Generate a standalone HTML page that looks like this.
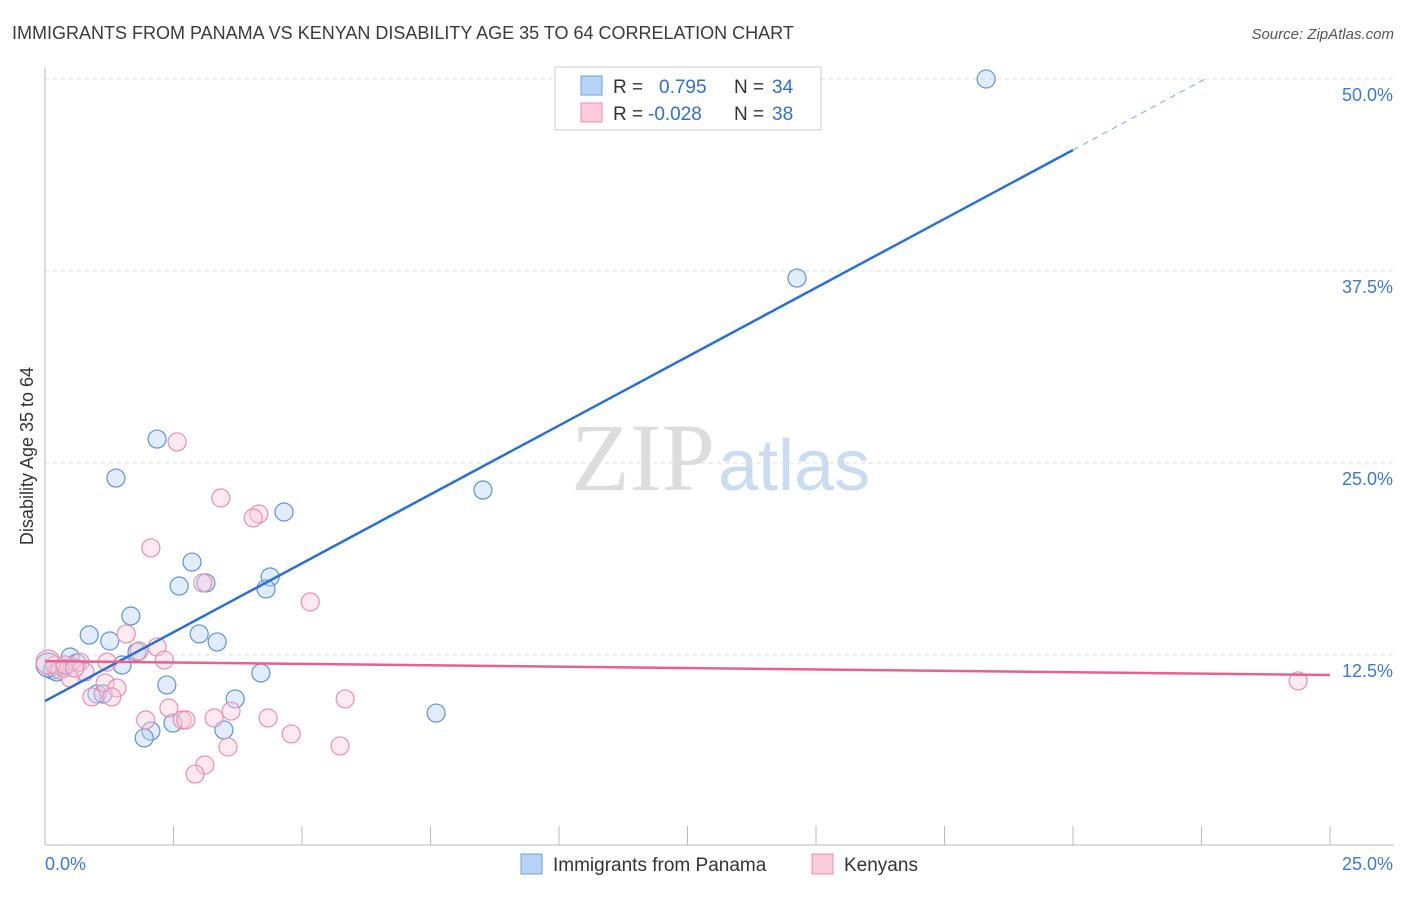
<!DOCTYPE html>
<html><head><meta charset="utf-8"><style>
body{margin:0;background:#fff;font-family:"Liberation Sans",sans-serif;}
</style></head><body>
<svg width="1406" height="892" id="c" font-family="Liberation Sans, sans-serif">
<text x="12" y="39" font-size="18" fill="#3a3a3a">IMMIGRANTS FROM PANAMA VS KENYAN DISABILITY AGE 35 TO 64 CORRELATION CHART</text>
<text x="1394" y="39" font-size="15" fill="#555" font-style="italic" text-anchor="end">Source: ZipAtlas.com</text>
<text x="33" y="456" font-size="18" fill="#333" text-anchor="middle" transform="rotate(-90 33 456)">Disability Age 35 to 64</text>
<text x="715" y="490" font-size="96" fill="#ddd" font-family="Liberation Serif, serif" text-anchor="end">ZIP</text>
<text x="718" y="490" font-size="72" fill="#c9dcf2">atlas</text>
<g id="grid"></g><g id="pts"></g><g id="lines"></g>
<g>
<rect x="555" y="67" width="266" height="63" fill="#fff" stroke="#ccc"/>
<rect x="581" y="76" width="21" height="19" fill="#b7d3f5" stroke="#6b9fe0"/>
<rect x="581" y="103" width="21" height="19" fill="#fbcadb" stroke="#ee8fb0"/>
<text x="613" y="93" font-size="19" fill="#333">R = </text><text x="659" y="93" font-size="19" fill="#2f6fd1">0.795</text>
<text x="734" y="93" font-size="19" fill="#333">N = </text><text x="772" y="93" font-size="19" fill="#2f6fd1">34</text>
<text x="613" y="120" font-size="19" fill="#333">R = </text><text x="648" y="120" font-size="19" fill="#2f6fd1">-0.028</text>
<text x="734" y="120" font-size="19" fill="#333">N = </text><text x="772" y="120" font-size="19" fill="#2f6fd1">38</text>
</g>
<g>
<rect x="521" y="854" width="21" height="20" fill="#b7d3f5" stroke="#6b9fe0"/>
<text x="553" y="871" font-size="19" fill="#333">Immigrants from Panama</text>
<rect x="812" y="854" width="21" height="20" fill="#fbcadb" stroke="#ee8fb0"/>
<text x="844" y="871" font-size="19" fill="#333">Kenyans</text>
</g>
</svg>
<script>
const yTicks=[12.5,25,37.5,50];
const yTickLabels=["12.5%","25.0%","37.5%","50.0%"];
const xTickLabels=["0.0%","25.0%"];
const blueX=[18.31,14.63,8.52,2.18,1.38,4.65,2.86,2.61,3.13,4.38,4.30,1.67,0.86,1.26,3.00,3.35,1.79,1.50,4.20,0.49,0.62,0.14,0.23,2.37,3.70,1.01,1.13,7.61,3.48,2.06,1.93,2.49,0.37,0.06];
const blueY=[50.0,37.04,23.24,26.56,24.02,21.81,18.55,16.99,17.19,17.58,16.80,15.04,13.80,13.41,13.87,13.35,12.70,11.85,11.33,12.37,11.98,11.52,11.39,10.55,9.64,9.96,9.96,8.72,7.62,7.55,7.10,8.07,11.65,11.85];
const pinkX=[2.57,3.42,4.16,4.05,2.06,3.07,5.16,1.58,2.18,1.83,2.32,1.21,0.68,1.17,1.40,0.91,1.30,5.84,2.41,1.96,2.67,2.74,3.29,3.62,4.34,4.79,3.56,5.74,3.11,2.92,24.38,0.19,0.29,0.49,0.78,0.06,0.39,0.58];
const pinkY=[26.37,22.72,21.68,21.42,19.47,17.19,15.95,13.87,13.02,12.76,12.17,12.04,12.04,10.68,10.35,9.77,9.77,9.64,9.05,8.27,8.27,8.27,8.40,8.85,8.40,7.36,6.51,6.58,5.34,4.75,10.81,11.85,11.52,11.00,11.39,12.04,11.85,11.65];
const blueFit=[9.5,45.38];const blueFitEndX=20;const blueDashEnd=[22.57,50];
const pinkFit=[12.1,11.2];
const X=v=>45+v*51.4, Y=v=>847-v*15.36;
const NS="http://www.w3.org/2000/svg";
function mk(t,a,p){const e=document.createElementNS(NS,t);for(const k in a)e.setAttribute(k,a[k]);p.appendChild(e);return e;}
const g=document.getElementById('grid');
yTicks.forEach((t,i)=>{
 const l=mk('line',{x1:45,x2:1394,y1:Y(t),y2:Y(t),stroke:'#ddd','stroke-dasharray':'4,4'},g);
 
 
 const tx=mk('text',{x:1393,y:Y(t)+22,'font-size':18,fill:'#3b78d8','text-anchor':'end'},g);
 tx.textContent=yTickLabels[i];
 
 
});
const ax=mk('line',{x1:45,x2:45,y1:67,y2:845,stroke:'#bbb'},g);


const bx=mk('line',{x1:45,x2:1394,y1:845,y2:845,stroke:'#bbb'},g);


for(let i=0;i<=10;i++){const t=mk('line',{x1:X(i*2.5),x2:X(i*2.5),y1:826,y2:845,stroke:'#bbb'},g);
 
 }
[[0,45,'start'],[25,1393,'end']].forEach((d,i)=>{const t=mk('text',{x:d[1],y:870,'font-size':18,fill:'#3b78d8','text-anchor':d[2]},g);t.textContent=xTickLabels[i];
 
 });
const p=document.getElementById('pts');
function dots(xs,ys,fill,stroke,name){xs.forEach((x,i)=>{const big=x<0.3&&i>=xs.length-3;
 const c=mk('circle',{cx:X(x),cy:Y(ys[i]),r:big?12:9,fill:fill,'fill-opacity':0.4,stroke:stroke,'stroke-width':1.2},p);
 
 });}
dots(blueX,blueY,'#b7d3f5','#5c93dc','panama-point');
dots(pinkX,pinkY,'#fbcadb','#ea8fae','kenyan-point');
const L=document.getElementById('lines');
const b1=mk('line',{x1:X(0),y1:Y(blueFit[0]),x2:X(blueFitEndX),y2:Y(blueFit[1]),stroke:'#2a6fd6','stroke-width':2.5},L);


const b2=mk('line',{x1:X(blueFitEndX),y1:Y(blueFit[1]),x2:X(blueDashEnd[0]),y2:Y(blueDashEnd[1]),stroke:'#8fb3e8','stroke-width':1.2,'stroke-dasharray':'6,5'},L);


const p1=mk('line',{x1:X(0),y1:Y(pinkFit[0]),x2:X(25),y2:Y(pinkFit[1]),stroke:'#e8608f','stroke-width':2.5},L);


</script>
</body></html>
